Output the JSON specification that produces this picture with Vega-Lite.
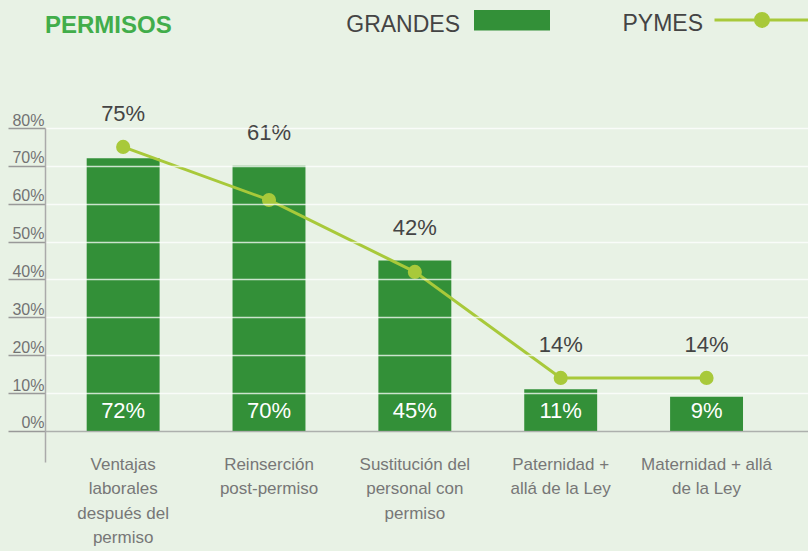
{
  "$schema": "https://vega.github.io/schema/vega-lite/v6.json",
  "width": 763,
  "height": 334,
  "autosize": {"type": "none"},
  "padding": {"left": 45, "top": 128, "right": 0, "bottom": 89},
  "background": "#e8f2e5",
  "config": {"view": {"stroke": null}, "font": "Liberation Sans"},
  "title": {
    "text": "PERMISOS",
    "anchor": "start",
    "frame": "group",
    "orient": "top",
    "font": "Liberation Sans",
    "fontSize": 24,
    "fontWeight": "bold",
    "color": "#41ad4a",
    "baseline": "alphabetic",
    "offset": 0,
    "dy": 82
  },
  "data": {
    "values": [
      {"categoria": "Ventajas\nlaborales\ndespués del\npermiso", "grandes": 0.72, "pymes": 0.75},
      {"categoria": "Reinserción\npost-permiso", "grandes": 0.70, "pymes": 0.61},
      {"categoria": "Sustitución del\npersonal con\npermiso", "grandes": 0.45, "pymes": 0.42},
      {"categoria": "Paternidad +\nallá de la Ley", "grandes": 0.11, "pymes": 0.14},
      {"categoria": "Maternidad + allá\nde la Ley", "grandes": 0.09, "pymes": 0.14}
    ]
  },
  "encoding": {
    "x": {
      "field": "categoria",
      "type": "nominal",
      "sort": null,
      "scale": {"paddingInner": 0.5, "paddingOuter": 0.3657, "align": 0.3908, "round": false},
      "axis": {
        "title": null,
        "domain": false,
        "ticks": false,
        "tickSize": 0,
        "labelAngle": 0,
        "labelPadding": 7,
        "labelBaseline": "alphabetic",
        "labelLineHeight": 24.5,
        "labelFontSize": 17,
        "labelFont": "Liberation Sans",
        "labelColor": "#777777",
        "labelExpr": "split(datum.label, '\\n')",
        "labelLimit": 300,
        "labelOverlap": false
      }
    }
  },
  "layer": [
    {
      "mark": {"type": "bar"},
      "encoding": {
        "y": {
          "field": "grandes",
          "type": "quantitative",
          "title": null,
          "scale": {"domain": [-0.082, 0.8], "nice": false, "zero": false},
          "axis": {
            "values": [0, 0.1, 0.2, 0.3, 0.4, 0.5, 0.6, 0.7, 0.8],
            "format": ".0%",
            "title": null,
            "zindex": 1,
            "domainColor": "#aaaaaa",
            "domainWidth": 1.5,
            "tickColor": "#999999",
            "tickWidth": 1.5,
            "tickSize": 37,
            "labelAlign": "right",
            "labelPadding": -36,
            "labelBaseline": "alphabetic",
            "labelOffset": -3,
            "labelFontSize": 16,
            "labelFont": "Liberation Sans",
            "labelColor": "#737373",
            "grid": true,
            "gridColor": {"condition": {"test": "datum.value === 0", "value": "#999999"}, "value": "#ffffff"},
            "gridOpacity": 0.75,
            "gridWidth": 1.5
          }
        },
        "color": {
          "datum": "GRANDES",
          "scale": {"range": ["#339038"]},
          "legend": {
            "orient": "none",
            "legendX": 429,
            "legendY": -141,
            "title": null,
            "padding": 0,
            "symbolType": "M-1,-0.397H1V0.147H-1Z",
            "symbolSize": 5776,
            "symbolStrokeWidth": 0,
            "symbolOpacity": 1,
            "labelFont": "Liberation Sans",
            "labelFontSize": 23,
            "labelColor": "#444444",
            "labelAlign": "right",
            "labelOffset": -90,
            "labelBaseline": "middle",
            "labelLimit": 300
          }
        }
      }
    },
    {
      "mark": {"type": "line", "strokeWidth": 3},
      "encoding": {
        "y": {"field": "pymes", "type": "quantitative", "title": null},
        "stroke": {
          "datum": "PYMES",
          "scale": {"range": ["#a8c93a"]},
          "legend": {
            "orient": "none",
            "legendX": 668,
            "legendY": -153,
            "title": null,
            "padding": 0,
            "symbolType": "M-1,-0.086H1M0.137,-0.086A0.137,0.137,0,1,1,-0.137,-0.086A0.137,0.137,0,1,1,0.137,-0.086Z",
            "symbolSize": 9025,
            "symbolStrokeWidth": 3,
            "symbolStrokeColor": "#a8c93a",
            "symbolFillColor": "#a8c93a",
            "symbolOpacity": 1,
            "labelFont": "Liberation Sans",
            "labelFontSize": 23,
            "labelColor": "#444444",
            "labelAlign": "right",
            "labelOffset": -108,
            "labelBaseline": "middle",
            "labelLimit": 300
          }
        }
      }
    },
    {
      "mark": {"type": "point", "filled": true, "size": 200, "color": "#a8c93a", "opacity": 1},
      "encoding": {
        "y": {"field": "pymes", "type": "quantitative", "title": null}
      }
    },
    {
      "transform": [{"fold": ["grandes", "pymes"], "as": ["serie", "v"]}],
      "mark": {"type": "text", "dy": -26, "baseline": "alphabetic", "fontSize": 22, "color": "#444444", "font": "Liberation Sans"},
      "encoding": {
        "y": {"field": "v", "aggregate": "max", "type": "quantitative", "title": null},
        "text": {"field": "pymes", "aggregate": "max", "type": "quantitative", "format": ".0%"}
      }
    },
    {
      "mark": {"type": "text", "dy": -13, "baseline": "alphabetic", "fontSize": 22, "color": "#ffffff", "font": "Liberation Sans"},
      "encoding": {
        "y": {"datum": 0},
        "text": {"field": "grandes", "format": ".0%"}
      }
    }
  ]
}
